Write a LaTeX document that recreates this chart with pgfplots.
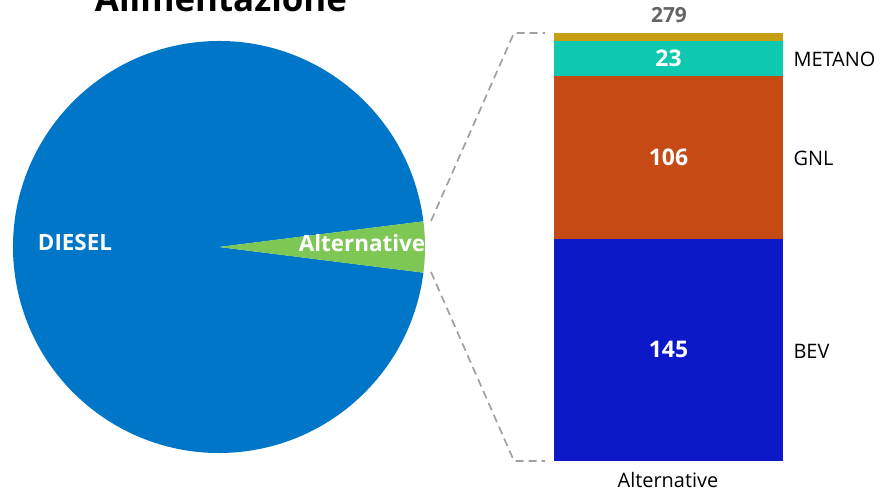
\documentclass[border=0pt]{standalone}
\usepackage{pgfplots}
\pgfplotsset{compat=1.18}
\usepackage{fontspec}
\setmainfont{Open Sans}

\definecolor{diesel}{RGB}{0,118,200}
\definecolor{altgreen}{RGB}{125,200,85}
\definecolor{bev}{RGB}{13,24,200}
\definecolor{gnl}{RGB}{197,74,20}
\definecolor{metano}{RGB}{14,201,176}
\definecolor{altro}{RGB}{197,158,20}
\definecolor{conn}{RGB}{160,160,160}
\definecolor{totgray}{RGB}{100,100,100}

% pie values
\def\valdiesel{6740}
\def\valalt{279}

\begin{document}
\begin{tikzpicture}[x=1bp,y=1bp]
\useasboundingbox (0,0) rectangle (881,493);

\pgfmathsetmacro\half{180*(\valalt/(\valdiesel+\valalt))}
\pgfmathsetmacro\cx{cos(\half)}
\pgfmathsetmacro\sy{sin(\half)}

% ---- pie ----
\begin{axis}[
  at={(13bp,40bp)}, anchor=south west,
  scale only axis, width=412bp, height=412bp,
  xmin=-1, xmax=1, ymin=-1, ymax=1,
  hide axis, clip=false]
\fill[diesel] (axis cs:0,0) -- (axis cs:\cx,\sy)
  arc[start angle=\half, end angle=360-\half, radius=206bp] -- cycle;
\fill[altgreen] (axis cs:0,0) -- (axis cs:\cx,-\sy)
  arc[start angle=-\half, end angle=\half, radius=206bp] -- cycle;
\end{axis}

% ---- bar of pie ----
\begin{axis}[
  at={(554bp,32bp)}, anchor=south west,
  scale only axis, width=229bp, height=428bp,
  xmin=-0.5, xmax=0.5, ymin=0, ymax=279,
  hide axis, clip=false,
  ybar stacked, bar width=229bp]
\addplot[fill=bev, draw=none] coordinates {(0,145)};
\addplot[fill=gnl, draw=none] coordinates {(0,106)};
\addplot[fill=metano, draw=none] coordinates {(0,23)};
\addplot[fill=altro, draw=none] coordinates {(0,5)};
\coordinate (lbev) at (axis cs:0,72.5);
\coordinate (lgnl) at (axis cs:0,198);
\coordinate (lmet) at (axis cs:0,262.5);
\end{axis}

\tikzset{val/.style={white, font=\fontsize{23}{26}\selectfont\bfseries}}
\node[val] at (lbev) {145};
\node[val] at (lgnl) {106};
\node[val] at (lmet) {23};

% labels
\node[anchor=base, font=\fontsize{35}{40}\selectfont\bfseries] at (221,481) {Alimentazione};
\node[white, font=\fontsize{22.5}{26}\selectfont\bfseries] at (75,250) {DIESEL};
\node[white, font=\fontsize{22.5}{26}\selectfont\bfseries] at (362,250) {Alternative};
\node[totgray, font=\fontsize{21}{24}\selectfont\bfseries] at (669,478) {279};
\node[anchor=west, font=\fontsize{20}{23}\selectfont] at (790,434) {METANO};
\node[anchor=west, font=\fontsize{20}{23}\selectfont] at (790,335) {GNL};
\node[anchor=west, font=\fontsize{20}{23}\selectfont] at (790,142) {BEV};
\node[font=\fontsize{20}{23}\selectfont] at (668,13) {Alternative};

% connectors
\draw[conn, line width=1.7bp, dash pattern=on 8bp off 5bp] (431,272) -- (514,460) -- (545,460);
\draw[conn, line width=1.7bp, dash pattern=on 8bp off 5bp] (431,221) -- (514,32) -- (545,32);
\end{tikzpicture}
\end{document}
